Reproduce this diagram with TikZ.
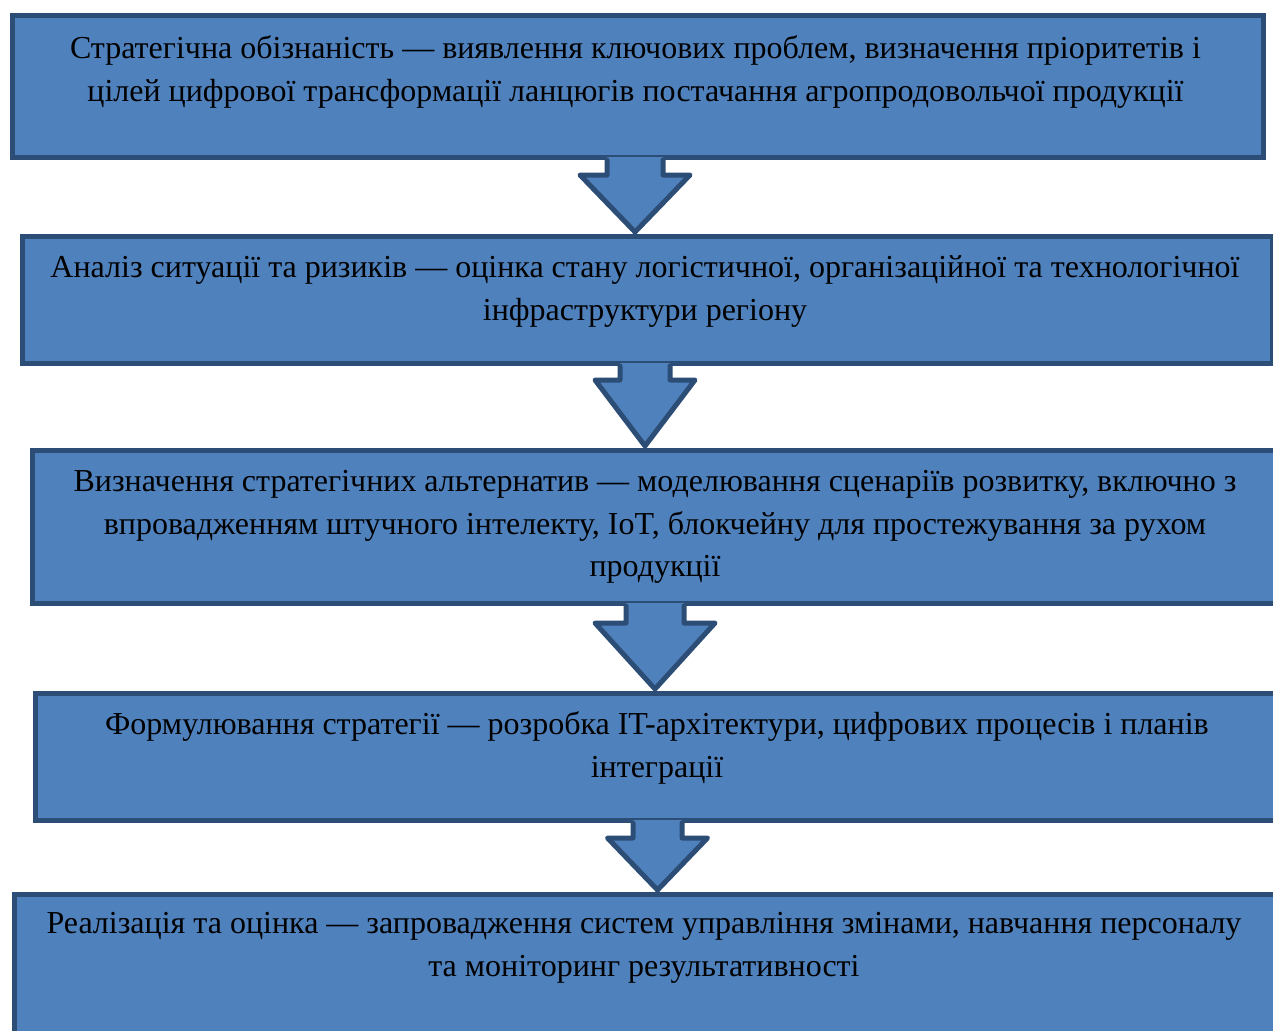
\documentclass[tikz,border=0pt]{standalone}
\usepackage{fontspec}
\setmainfont{Liberation Serif}
\usetikzlibrary{calc}
\definecolor{boxfill}{HTML}{4F81BD}
\definecolor{boxline}{HTML}{2C4D75}
\tikzset{
  box/.style={draw=boxline, fill=boxfill, line width=5pt, rectangle, inner sep=0pt, anchor=north west},
  txt/.style={align=center, inner sep=0pt, anchor=north, text=black, font=\fontsize{32}{42.5}\selectfont},
  arrfill/.style={fill=boxfill},
  arrline/.style={draw=boxline, line width=5pt, line join=round, line cap=round},
}
\newcommand\blockarr[6]{%
  \coordinate (top) at (#3,0 |- #1.south);
  \coordinate (tip) at (#3,0 |- #2.north);
  \fill[arrfill] ($(top)+(-#4,-3)$) -- (#3-#4,#6) -- (#3-#5,#6) -- ($(tip)+(0,-2)$) -- (#3+#5,#6) -- (#3+#4,#6) -- ($(top)+(#4,-3)$) -- cycle;
  \draw[arrline] (top -| #3-#4,0) -- (#3-#4,#6) -- (#3-#5,#6) -- ($(tip)+(0,-2)$) -- (#3+#5,#6) -- (#3+#4,#6) -- (top -| #3+#4,0);
}
\begin{document}
\begin{tikzpicture}[x=1pt,y=-1pt]
\useasboundingbox (0,0) rectangle (1273,1030);
\node[box, minimum width=1251pt, minimum height=142pt] (b1) at (10,13) {};
\node[box, minimum width=1250pt, minimum height=127pt] (b2) at (20,234) {};
\node[box, minimum width=1250pt, minimum height=153pt] (b3) at (30,448) {};
\node[box, minimum width=1248pt, minimum height=127pt] (b4) at (33,691) {};
\node[box, minimum width=1264pt, minimum height=160pt] (b5) at (12,892) {};

\node[txt] (t1) at (635.5,28.6) {\strut Стратегічна обізнаність — виявлення ключових проблем, визначення пріоритетів і\\цілей цифрової трансформації ланцюгів постачання агропродовольчої продукції};
\node[txt] (t2) at (645,247.6) {\strut Аналіз ситуації та ризиків — оцінка стану логістичної, організаційної та технологічної\\інфраструктури регіону};
\node[txt] (t3) at (655,461.6) {\strut Визначення стратегічних альтернатив — моделювання сценаріїв розвитку, включно з\\впровадженням штучного інтелекту, IoT, блокчейну для простежування за рухом\\продукції};
\node[txt] (t4) at (657,704.6) {\strut Формулювання стратегії — розробка IT-архітектури, цифрових процесів і планів\\інтеграції};
\node[txt] (t5) at (644,903.6) {\strut Реалізація та оцінка — запровадження систем управління змінами, навчання персоналу\\та моніторинг результативності};

\blockarr{b1}{b2}{635}{28}{55}{175}
\blockarr{b2}{b3}{645}{25}{50}{380}
\blockarr{b3}{b4}{655}{29}{60}{623}
\blockarr{b4}{b5}{657.5}{24.5}{50}{838}
\end{tikzpicture}
\end{document}
